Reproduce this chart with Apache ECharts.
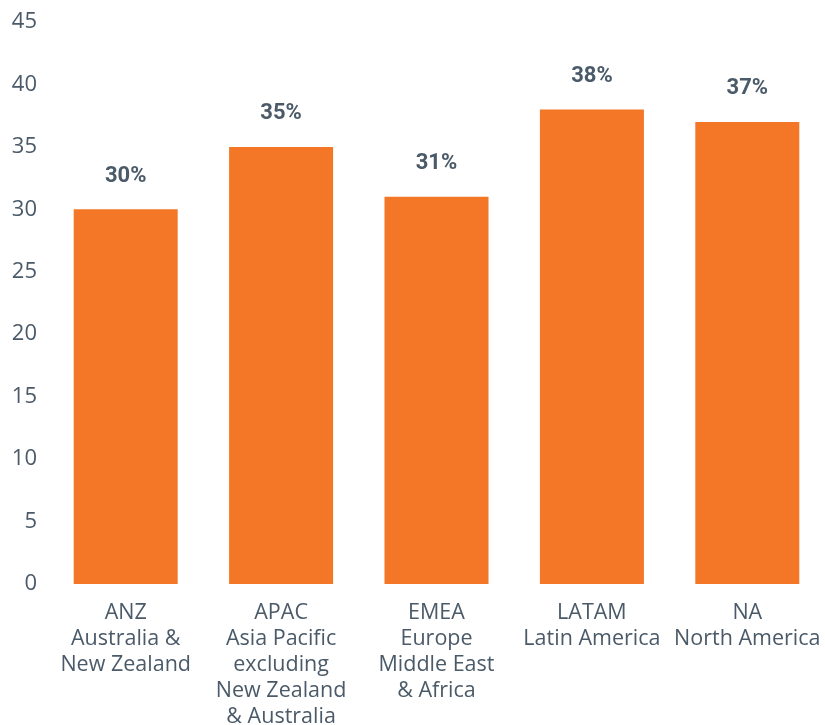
<!DOCTYPE html>
<html>
<head>
<meta charset="utf-8">
<script src="https://cdn.jsdelivr.net/npm/echarts@6/dist/echarts.min.js"></script>
<style>
  html, body { margin: 0; padding: 0; background: #ffffff; }
  #chart { width: 825px; height: 725px; }
</style>
</head>
<body>
<div id="chart"></div>
<script>
// Regions along the x axis (code + full name on separate lines)
const regions = [
  'ANZ\nAustralia &\nNew Zealand',
  'APAC\nAsia Pacific\nexcluding\nNew Zealand\n& Australia',
  'EMEA\nEurope\nMiddle East\n& Africa',
  'LATAM\nLatin America',
  'NA\nNorth America'
];
// Share per region, in percent
const shares = [30, 35, 31, 38, 37];
// Value axis range
const axisMin = 0;
const axisMax = 45;
const axisStep = 5;

const textColor = '#4b5a69';
const barColor = '#f37726';

const chart = echarts.init(document.getElementById('chart'), null, { renderer: 'canvas' });
chart.setOption({
  animation: false,
  backgroundColor: '#ffffff',
  grid: {
    left: 48, right: 0, top: 22, bottom: 141,
    containLabel: false,
    outerBoundsMode: 'none'
  },
  xAxis: {
    type: 'category',
    data: regions,
    axisLine: { show: false },
    axisTick: { show: false },
    axisLabel: {
      color: textColor,
      fontFamily: 'Open Sans',
      fontSize: 21.5,
      lineHeight: 26,
      margin: 16,
      interval: 0
    }
  },
  yAxis: {
    type: 'value',
    min: axisMin,
    max: axisMax,
    interval: axisStep,
    splitLine: { show: false },
    axisLine: { show: false },
    axisTick: { show: false },
    axisLabel: {
      color: textColor,
      fontFamily: 'Open Sans',
      fontSize: 22,
      margin: 11
    }
  },
  series: [{
    type: 'bar',
    data: shares,
    barWidth: 104,
    itemStyle: { color: barColor },
    label: {
      show: true,
      position: 'top',
      distance: 22,
      color: textColor,
      fontFamily: 'Roboto',
      fontWeight: 'bold',
      fontSize: 22,
      formatter: p => p.value + '%'
    }
  }]
});
</script>
</body>
</html>
